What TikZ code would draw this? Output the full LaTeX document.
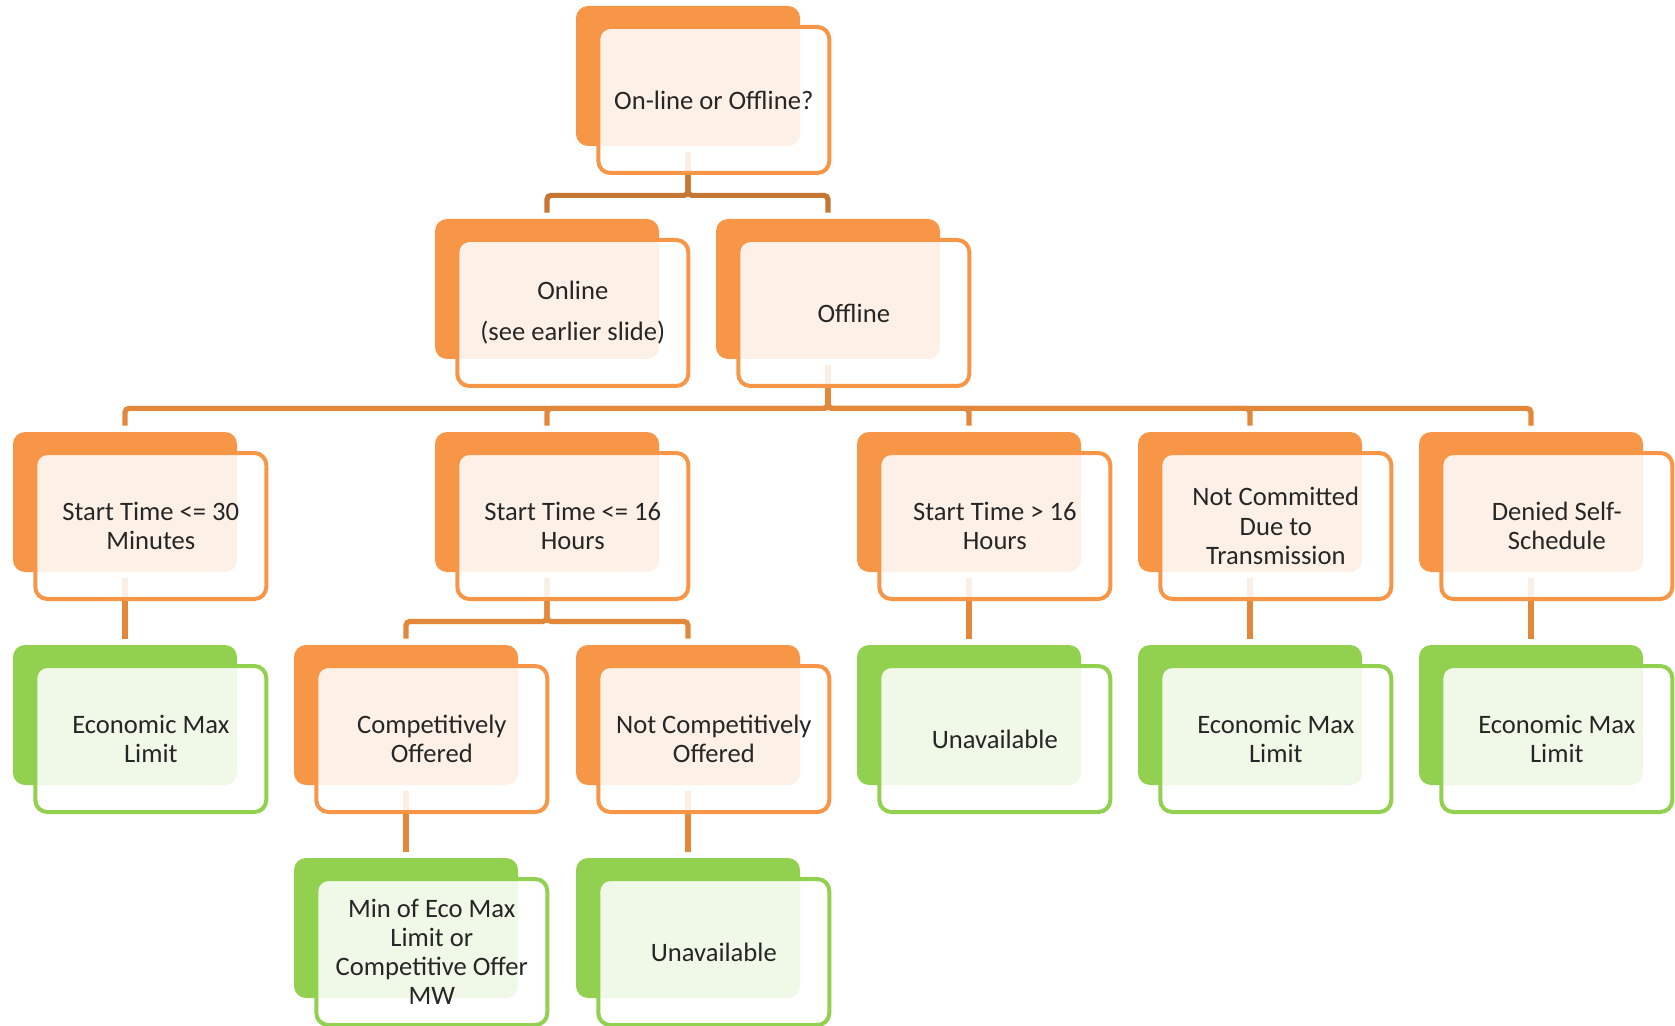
\documentclass[tikz,border=0pt]{standalone}
\usepackage{fontspec}
\setmainfont{Carlito}
\usetikzlibrary{backgrounds}
\definecolor{boxorange}{HTML}{F79646}
\definecolor{boxgreen}{HTML}{92D050}
\definecolor{linkdark}{HTML}{C57632}
\definecolor{linkmid}{HTML}{E3883A}
\definecolor{txt}{HTML}{262626}
\begin{document}
\begin{tikzpicture}[x=0.5pt,y=-0.5pt,
  back/.style={fill=#1,rounded corners=6pt,minimum width=112pt,minimum height=70pt,inner sep=0pt},
  back/.default=boxorange,
  front/.style={draw=#1,line width=2pt,fill=white,fill opacity=0.87,text opacity=1,rounded corners=6pt,
    minimum width=115.5pt,minimum height=73pt,inner sep=0pt,align=center,text=txt,
    font=\fontsize{13.3}{14.6}\selectfont,xshift=12.9pt,yshift=-12pt},
  front/.default=boxorange,
  link/.style={draw=#1,line width=2.6pt,rounded corners=2pt,shorten <=3pt,shorten >=3pt}]
\useasboundingbox (0,0) rectangle (1675,1026);
% back plates
\node[back] (root) at (688,76) {};
\node[back] (onl) at (547,289) {};
\node[back] (off) at (828,289) {};
\node[back] (s30) at (125,502) {};
\node[back] (s16) at (547,502) {};
\node[back] (sgt) at (969,502) {};
\node[back] (ncd) at (1250,502) {};
\node[back] (dss) at (1531,502) {};
\node[back=boxgreen] (eco1) at (125,715) {};
\node[back] (cmp) at (406,715) {};
\node[back] (ncmp) at (688,715) {};
\node[back=boxgreen] (un1) at (969,715) {};
\node[back=boxgreen] (eco2) at (1250,715) {};
\node[back=boxgreen] (eco3) at (1531,715) {};
\node[back=boxgreen] (mn) at (406,928) {};
\node[back=boxgreen] (un2) at (688,928) {};
% front boxes with text
\node[front] (rootf) at (root) {On-line or Offline?};
\node[front] (onlf) at (onl) {Online\\[6pt](see earlier slide)};
\node[front] (offf) at (off) {Offline};
\node[front] (s30f) at (s30) {Start Time <= 30\\Minutes};
\node[front] (s16f) at (s16) {Start Time <= 16\\Hours};
\node[front] (sgtf) at (sgt) {Start Time > 16\\Hours};
\node[front] (ncdf) at (ncd) {Not Committed\\Due to\\Transmission};
\node[front] (dssf) at (dss) {Denied Self-\\Schedule};
\node[front=boxgreen] (eco1f) at (eco1) {Economic Max\\Limit};
\node[front] (cmpf) at (cmp) {Competitively\\Offered};
\node[front] (ncmpf) at (ncmp) {Not Competitively\\Offered};
\node[front=boxgreen] (un1f) at (un1) {Unavailable};
\node[front=boxgreen] (eco2f) at (eco2) {Economic Max\\Limit};
\node[front=boxgreen] (eco3f) at (eco3) {Economic Max\\Limit};
\node[front=boxgreen] (mnf) at (mn) {Min of Eco Max\\Limit or\\Competitive Offer\\MW};
\node[front=boxgreen] (un2f) at (un2) {Unavailable};
% connectors
\begin{scope}[on background layer]
\draw[link=linkdark] (root.south) -- ++(0,49) -| (onl.north);
\draw[link=linkdark] (root.south) -- ++(0,49) -| (off.north);
\draw[link=linkmid] (off.south) -- ++(0,49) -| (s30.north);
\draw[link=linkmid] (off.south) -- ++(0,49) -| (s16.north);
\draw[link=linkmid] (off.south) -- ++(0,49) -| (sgt.north);
\draw[link=linkmid] (off.south) -- ++(0,49) -| (ncd.north);
\draw[link=linkmid] (off.south) -- ++(0,49) -| (dss.north);
\draw[link=linkmid] (s30.south) -- (eco1.north);
\draw[link=linkmid] (s16.south) -- ++(0,49) -| (cmp.north);
\draw[link=linkmid] (s16.south) -- ++(0,49) -| (ncmp.north);
\draw[link=linkmid] (sgt.south) -- (un1.north);
\draw[link=linkmid] (ncd.south) -- (eco2.north);
\draw[link=linkmid] (dss.south) -- (eco3.north);
\draw[link=linkmid] (cmp.south) -- (mn.north);
\draw[link=linkmid] (ncmp.south) -- (un2.north);
\end{scope}
\end{tikzpicture}
\end{document}
